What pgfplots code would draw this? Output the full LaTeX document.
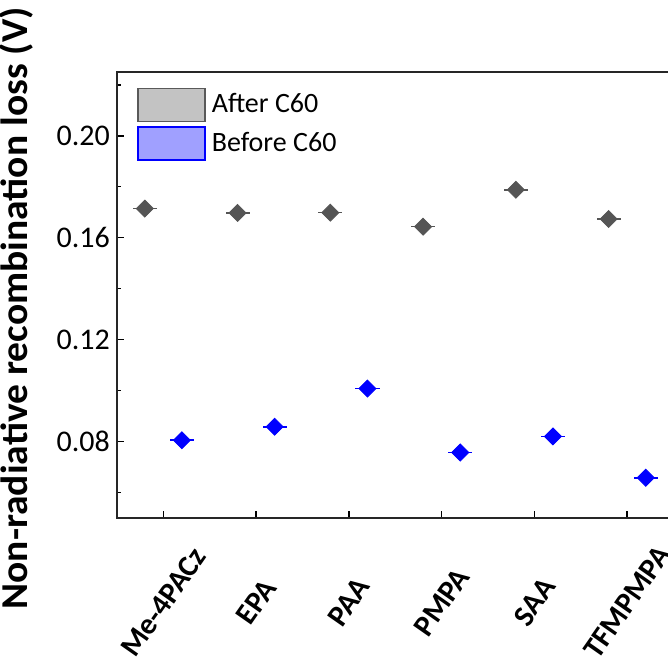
\documentclass[border=0pt]{standalone}
\usepackage{pgfplots}
\pgfplotsset{compat=1.18}
\usepackage{fontspec}
\setmainfont{Carlito}
\newfontfamily\labfont[FakeStretch=1.04]{Carlito}
\definecolor{darkg}{HTML}{555555}
\definecolor{legg}{HTML}{C3C3C3}
\definecolor{legb}{HTML}{A0A0FF}
\begin{document}
\begin{tikzpicture}
\begin{axis}[
  width=275.5pt, height=223pt, scale only axis,
  xmin=0.5, xmax=6.44, ymin=0.05, ymax=0.225,
  clip=false,
  axis line style={draw=none},
  tick pos=left, tick align=inside,
  major tick length=3.5pt, minor tick length=2pt,
  tick style={black, line width=0.8pt},
  xtick={1,2,3,4,5,6},
  xticklabels={Me-4PACz,EPA,PAA,PMPA,SAA,TFMPMPA},
  xticklabel style={font=\fontsize{15}{18}\selectfont\bfseries, yshift=-42pt, rotate=55, anchor=center},
  ytick={0.08,0.12,0.16,0.20},
  minor ytick={0.06,0.10,0.14,0.18,0.22},
  yticklabel style={font=\fontsize{15}{18}\selectfont, /pgf/number format/.cd, fixed, fixed zerofill, precision=2, assume math mode=true},
  ylabel={Non-radiative recombination loss (V)},
  every axis y label/.style={at={(axis description cs:-0.183,0.47)}, rotate=90, anchor=center, font=\labfont\fontsize{19}{22}\selectfont\bfseries},
  legend style={draw=none, fill=none, at={(axis description cs:0.036,0.966)}, anchor=north west,
    font=\fontsize{14}{16}\selectfont, inner sep=0pt, row sep=2pt, column sep=1pt},
  legend cell align=left,
  legend image code/.code={\draw[#1, line width=0.8pt] (0pt,-8.25pt) rectangle (33.5pt,8.25pt);},
]
\addlegendimage{fill=legg, draw=gray!70!black}
\addlegendentry{After C60}
\addlegendimage{fill=legb, draw=blue}
\addlegendentry{Before C60}

\addplot[only marks, mark=square*, mark size=3pt, mark options={rotate=45, fill=darkg, draw=darkg},
  error bars/.cd, x dir=both, x fixed=0.13, error mark=none,
  error bar style={darkg, line width=0.8pt}] coordinates {
  (0.8,0.1714) (1.8,0.1697) (2.8,0.1698) (3.8,0.1643) (4.8,0.1788) (5.8,0.1673)
};
\addplot[only marks, mark=square*, mark size=3pt, mark options={rotate=45, fill=blue, draw=blue},
  error bars/.cd, x dir=both, x fixed=0.13, error mark=none,
  error bar style={blue, line width=0.8pt}] coordinates {
  (1.2,0.0805) (2.2,0.0858) (3.2,0.1008) (4.2,0.0757) (5.2,0.0820) (6.2,0.0658)
};
\draw[line width=1pt, black!85] (rel axis cs:1,1) -- (rel axis cs:0,1) -- (rel axis cs:0,0) -- (rel axis cs:1,0);
\coordinate (bl) at (rel axis cs:-0.2123,-0.3206);
\coordinate (tr) at (rel axis cs:1,1.1614);
\end{axis}
\pgfresetboundingbox
\path (bl) rectangle (tr);
\end{tikzpicture}
\end{document}
